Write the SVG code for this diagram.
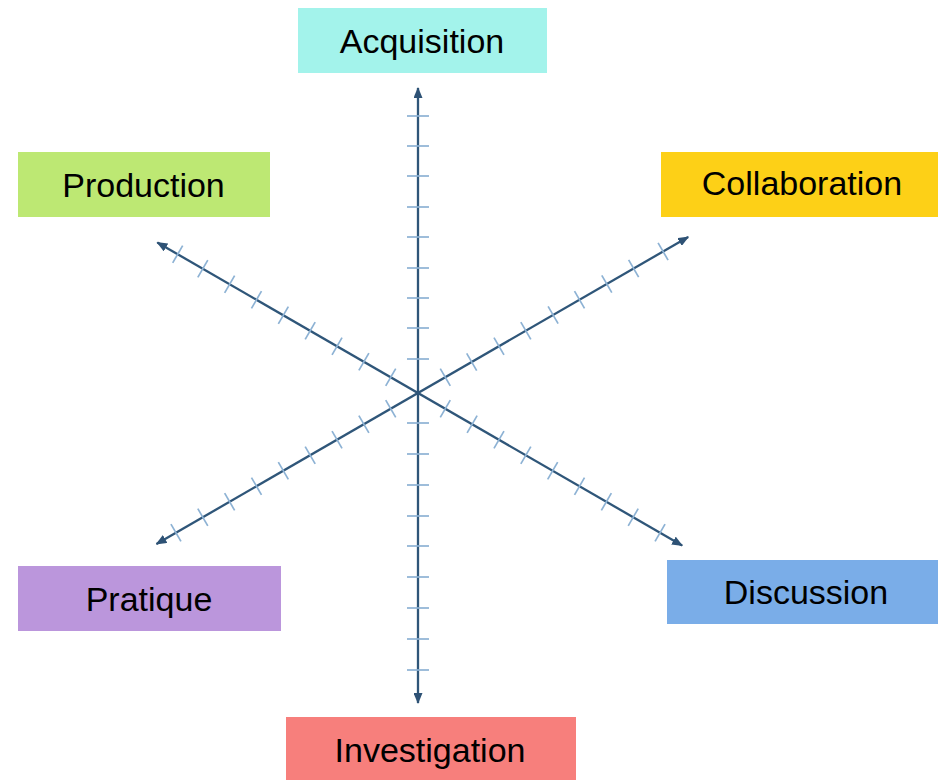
<svg xmlns="http://www.w3.org/2000/svg" width="938" height="780" viewBox="0 0 938 780">
  <defs>
    <marker id="arrow" markerUnits="userSpaceOnUse" markerWidth="11" markerHeight="9" refX="10" refY="4.5" orient="auto-start-reverse">
      <path d="M0,0 L11,4.5 L0,9 z" fill="#2e5275"/>
    </marker>
    <style>
      .axis { stroke: #2f5679; stroke-width: 2.3; fill: none; }
      .tick { stroke: #8db2d4; stroke-width: 1.7; }
      .label { font-family: "Liberation Sans", Arial, sans-serif; font-size: 34px; fill: #000; text-anchor: middle; }
    </style>
  </defs>
  <rect width="938" height="780" fill="#ffffff"/>

  <g id="connectors">
    <!-- vertical axis -->
    <g id="axis-vertical">
      <line class="axis" x1="418" y1="703" x2="418" y2="88" marker-start="url(#arrow)" marker-end="url(#arrow)"/>
      <g class="tick">
        <line x1="407" y1="116" x2="429" y2="116"/>
        <line x1="407" y1="146" x2="429" y2="146"/>
        <line x1="407" y1="176" x2="429" y2="176"/>
        <line x1="407" y1="207" x2="429" y2="207"/>
        <line x1="407" y1="237" x2="429" y2="237"/>
        <line x1="407" y1="268" x2="429" y2="268"/>
        <line x1="407" y1="298" x2="429" y2="298"/>
        <line x1="407" y1="328" x2="429" y2="328"/>
        <line x1="407" y1="359" x2="429" y2="359"/>
        <line x1="407" y1="423" x2="429" y2="423"/>
        <line x1="407" y1="454" x2="429" y2="454"/>
        <line x1="407" y1="485" x2="429" y2="485"/>
        <line x1="407" y1="516" x2="429" y2="516"/>
        <line x1="407" y1="546" x2="429" y2="546"/>
        <line x1="407" y1="577" x2="429" y2="577"/>
        <line x1="407" y1="608" x2="429" y2="608"/>
        <line x1="407" y1="639" x2="429" y2="639"/>
        <line x1="407" y1="670" x2="429" y2="670"/>
      </g>
    </g>
    <!-- Production - Discussion axis -->
    <g id="axis-production-discussion" transform="translate(418,393) rotate(30)">
      <line class="axis" x1="-301" y1="0" x2="305" y2="0" marker-start="url(#arrow)" marker-end="url(#arrow)"/>
      <g class="tick">
        <line x1="-31.5" y1="-10" x2="-31.5" y2="10"/>
        <line x1="-62.5" y1="-10" x2="-62.5" y2="10"/>
        <line x1="-93.5" y1="-10" x2="-93.5" y2="10"/>
        <line x1="-124.5" y1="-10" x2="-124.5" y2="10"/>
        <line x1="-155.5" y1="-10" x2="-155.5" y2="10"/>
        <line x1="-186.5" y1="-10" x2="-186.5" y2="10"/>
        <line x1="-217.5" y1="-10" x2="-217.5" y2="10"/>
        <line x1="-248.5" y1="-10" x2="-248.5" y2="10"/>
        <line x1="-277.5" y1="-10" x2="-277.5" y2="10"/>
        <line x1="31.5" y1="-10" x2="31.5" y2="10"/>
        <line x1="62.5" y1="-10" x2="62.5" y2="10"/>
        <line x1="93.5" y1="-10" x2="93.5" y2="10"/>
        <line x1="124.5" y1="-10" x2="124.5" y2="10"/>
        <line x1="155.5" y1="-10" x2="155.5" y2="10"/>
        <line x1="186.5" y1="-10" x2="186.5" y2="10"/>
        <line x1="217.5" y1="-10" x2="217.5" y2="10"/>
        <line x1="248.5" y1="-10" x2="248.5" y2="10"/>
        <line x1="279.5" y1="-10" x2="279.5" y2="10"/>
      </g>
    </g>
    <!-- Pratique - Collaboration axis -->
    <g id="axis-pratique-collaboration" transform="translate(418,393) rotate(-30)">
      <line class="axis" x1="-302" y1="0" x2="312" y2="0" marker-start="url(#arrow)" marker-end="url(#arrow)"/>
      <g class="tick">
        <line x1="-31.5" y1="-10" x2="-31.5" y2="10"/>
        <line x1="-62.5" y1="-10" x2="-62.5" y2="10"/>
        <line x1="-93.5" y1="-10" x2="-93.5" y2="10"/>
        <line x1="-124.5" y1="-10" x2="-124.5" y2="10"/>
        <line x1="-155.5" y1="-10" x2="-155.5" y2="10"/>
        <line x1="-186.5" y1="-10" x2="-186.5" y2="10"/>
        <line x1="-217.5" y1="-10" x2="-217.5" y2="10"/>
        <line x1="-248.5" y1="-10" x2="-248.5" y2="10"/>
        <line x1="-279.5" y1="-10" x2="-279.5" y2="10"/>
        <line x1="31.5" y1="-10" x2="31.5" y2="10"/>
        <line x1="62" y1="-10" x2="62" y2="10"/>
        <line x1="93.5" y1="-10" x2="93.5" y2="10"/>
        <line x1="124.5" y1="-10" x2="124.5" y2="10"/>
        <line x1="156" y1="-10" x2="156" y2="10"/>
        <line x1="186.5" y1="-10" x2="186.5" y2="10"/>
        <line x1="218" y1="-10" x2="218" y2="10"/>
        <line x1="249" y1="-10" x2="249" y2="10"/>
        <line x1="283" y1="-10" x2="283" y2="10"/>
      </g>
    </g>
  </g>

  <g id="acquisition">
    <rect x="298" y="8" width="249" height="65" fill="#a3f3eb"/>
    <text class="label" x="422" y="53">Acquisition</text>
  </g>
  <g id="production">
    <rect x="18" y="152" width="252" height="65" fill="#bde873"/>
    <text class="label" x="143.5" y="197">Production</text>
  </g>
  <g id="collaboration">
    <rect x="661" y="152" width="277" height="65" fill="#fdd017"/>
    <text class="label" x="802" y="195">Collaboration</text>
  </g>
  <g id="pratique">
    <rect x="18" y="566" width="263" height="65" fill="#bb96dc"/>
    <text class="label" x="149" y="611">Pratique</text>
  </g>
  <g id="discussion">
    <rect x="667" y="560" width="271" height="64" fill="#7aade8"/>
    <text class="label" x="806" y="604">Discussion</text>
  </g>
  <g id="investigation">
    <rect x="286" y="717" width="290" height="63" fill="#f77f7c"/>
    <text class="label" x="430" y="762">Investigation</text>
  </g>
</svg>
